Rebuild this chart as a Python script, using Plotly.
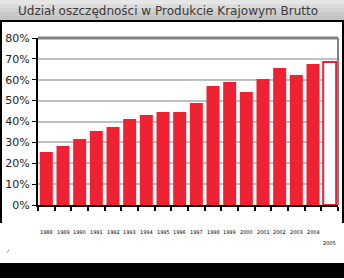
import plotly.graph_objects as go

categories = [str(y) for y in range(1988, 2006)]
labels = [str(y) for y in range(1988, 2006)]
values = [25.4, 28.3, 31.6, 35.4, 37.4, 41.2, 43.1, 44.5, 44.5, 48.9,
          57.0, 58.9, 54.1, 60.4, 65.6, 62.3, 67.5, 68.5]
filled = [True] * 17 + [False]
ytick_vals = [0, 10, 20, 30, 40, 50, 60, 70, 80]
ytick_text = [f"{v}%" for v in ytick_vals]
title_text = "Udział oszczędności w Produkcie Krajowym Brutto"

RED = "#ee2233"

# plot area in pixels: x 38..338, y 38..205
L, R, T, B = 38, 338, 38, 205
W, H = R - L, B - T

def px(x):
    return (x - L) / W

def py(y):
    return (B - y) / H

fig = go.Figure()
fig.add_trace(go.Bar(
    x=categories, y=values,
    marker=dict(color=[RED if f else "white" for f in filled],
                line=dict(color=RED, width=[0 if f else 2 for f in filled])),
    width=0.78,
))

shapes = []
# title bar gradient
grays = ["#e6e6e6", "#dcdcdc", "#d2d2d2", "#cacaca", "#c4c4c4"]
for i, g in enumerate(grays):
    y0 = i * 4
    shapes.append(dict(type="rect", xref="paper", yref="paper",
                       x0=px(0), x1=px(344), y0=py(y0), y1=py(y0 + 4),
                       fillcolor=g, line=dict(width=0), layer="below"))
# line under title bar
shapes.append(dict(type="rect", xref="paper", yref="paper",
                   x0=px(0), x1=px(344), y0=py(20), y1=py(22),
                   fillcolor="black", line=dict(width=0)))
# left and right borders
shapes.append(dict(type="rect", xref="paper", yref="paper",
                   x0=px(0), x1=px(2), y0=py(20), y1=py(223),
                   fillcolor="black", line=dict(width=0)))
shapes.append(dict(type="rect", xref="paper", yref="paper",
                   x0=px(342), x1=px(344), y0=py(20), y1=py(223),
                   fillcolor="black", line=dict(width=0)))
# bottom black band
shapes.append(dict(type="rect", xref="paper", yref="paper",
                   x0=px(0), x1=px(344), y0=py(263), y1=py(278),
                   fillcolor="black", line=dict(width=0)))
# gray frame top and right
shapes.append(dict(type="line", xref="paper", yref="paper",
                   x0=0, x1=1.0, y0=1, y1=1,
                   line=dict(color="#808080", width=3)))
shapes.append(dict(type="line", xref="paper", yref="paper",
                   x0=1.0, x1=1.0, y0=0, y1=1,
                   line=dict(color="#808080", width=2)))

annotations = [dict(text=title_text, xref="paper", yref="paper",
                    x=px(16), y=py(11), xanchor="left", yanchor="middle",
                    showarrow=False,
                    font=dict(family="DejaVu Sans", size=12, color="#3a3a3a"))]
for i, lab in enumerate(labels):
    yy = 232 if i < len(labels) - 1 else 243
    annotations.append(dict(text=lab, x=i, xref="x", yref="paper",
                            y=py(yy), xanchor="center", yanchor="middle",
                            showarrow=False,
                            font=dict(family="DejaVu Sans", size=5, color="black")))
annotations.append(dict(text="/", xref="paper", yref="paper", x=px(5), y=py(257),
                        showarrow=False, font=dict(size=6, color="#555")))

fig.update_layout(
    width=344, height=280,
    margin=dict(l=L, r=344 - R, t=T, b=280 - B),
    paper_bgcolor="white", plot_bgcolor="white",
    showlegend=False,
    bargap=0.22,
    shapes=shapes,
    annotations=annotations,
    xaxis=dict(type="category", showticklabels=False, showgrid=False,
               showline=True, linecolor="black", linewidth=2,
               ticks="outside", ticklen=4, tickcolor="black", tickwidth=2,
               tickson="boundaries", range=[-0.5, 17.5]),
    yaxis=dict(range=[0, 80], tickvals=ytick_vals, ticktext=ytick_text,
               showgrid=True, gridcolor="#c0c0c0", gridwidth=2,
               showline=True, linecolor="black", linewidth=2,
               ticks="outside", ticklen=4, tickcolor="black",
               tickfont=dict(family="DejaVu Sans", size=11, color="#222"),
               zeroline=False),
)

fig.write_html("out.html")
